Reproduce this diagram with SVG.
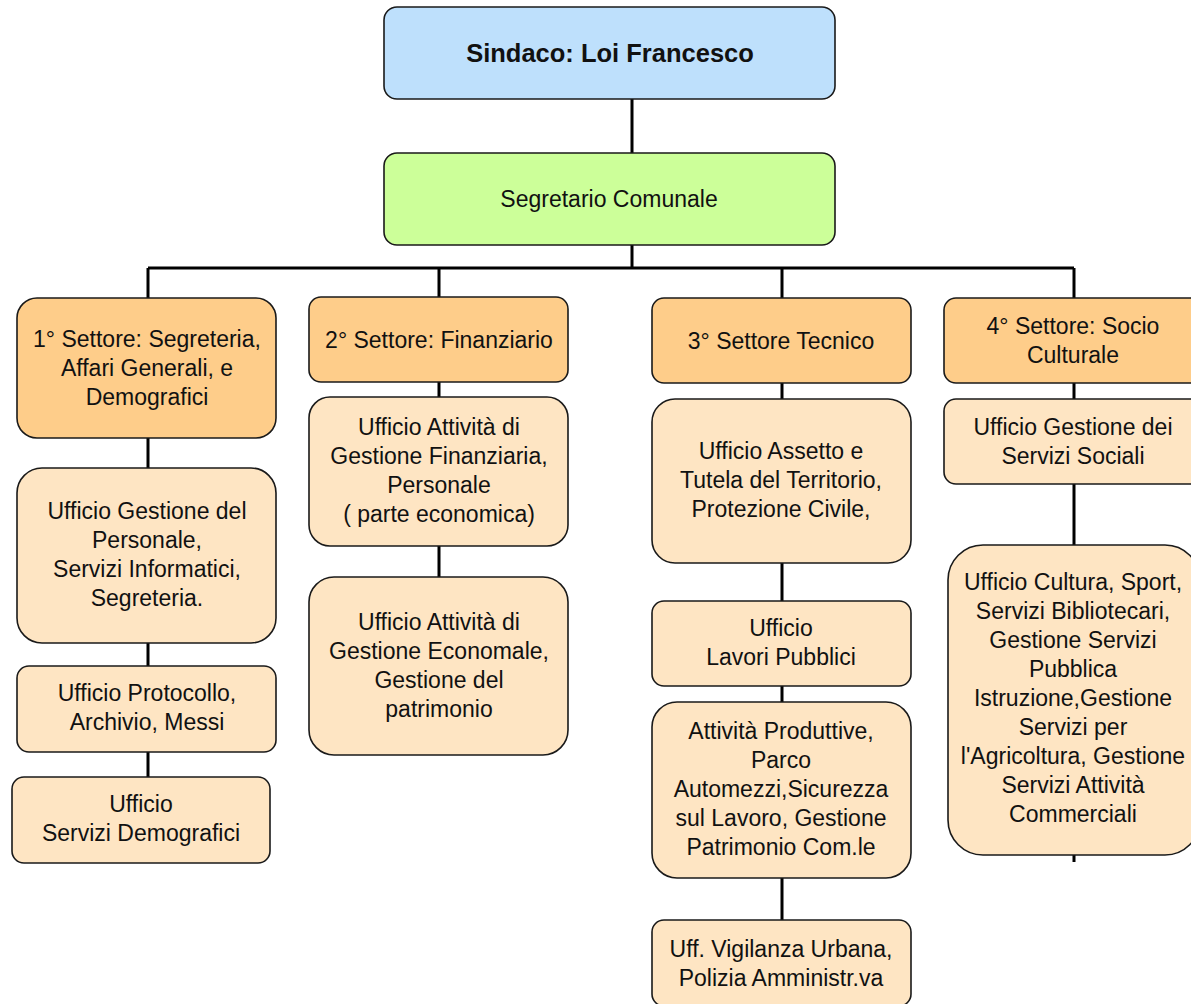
<svg xmlns="http://www.w3.org/2000/svg" width="1191" height="1004" viewBox="0 0 1191 1004">
<style>
.box{stroke:#1a1a1a;stroke-width:1.6}
.top{fill:#BEE0FC}
.sec{fill:#CCFF99}
.hdr{fill:#FECD8A}
.off{fill:#FEE5C3}
text{font-family:"Liberation Sans",Arial,sans-serif;font-size:23px;fill:#111;text-anchor:middle}
.b{font-weight:bold;font-size:25.5px}
.c{stroke:#000;stroke-width:3;fill:none}
</style>
<rect width="1191" height="1004" fill="#fff"/>
<g id="connectors">
<path class="c" d="M632 99V153M632 245V268M148 268H1074M148 268V298M439 268V297M782 268V298M1074 268V298"/>
<path class="c" d="M148 438V468M148 643V666M148 752V777"/>
<path class="c" d="M439 382V397M439 546V577"/>
<path class="c" d="M782 383V399M782 563V601M782 686V702M782 878V920"/>
<path class="c" d="M1074 383V399M1074 484V545M1074 855V862"/>
</g>
<g id="sindaco"><rect class="box top" x="384" y="7" width="451" height="92" rx="13"/><text class="b" x="610" y="62">Sindaco: Loi Francesco</text></g>
<g id="segretario"><rect class="box sec" x="384" y="153" width="451" height="92" rx="13"/><text x="609" y="207">Segretario Comunale</text></g>
<g id="settore1"><rect class="box hdr" x="17" y="298" width="259" height="140" rx="20"/><text x="147" y="347">1° Settore: Segreteria,</text><text x="147" y="376">Affari Generali, e</text><text x="147" y="405">Demografici</text></g>
<g id="uff-personale"><rect class="box off" x="17" y="468" width="259" height="175" rx="25"/><text x="147" y="519">Ufficio Gestione del</text><text x="147" y="548">Personale,</text><text x="147" y="577">Servizi Informatici,</text><text x="147" y="606">Segreteria.</text></g>
<g id="uff-protocollo"><rect class="box off" x="17" y="666" width="259" height="86" rx="12"/><text x="147" y="701">Ufficio Protocollo,</text><text x="147" y="730">Archivio, Messi</text></g>
<g id="uff-demografici"><rect class="box off" x="12" y="777" width="258" height="86" rx="12"/><text x="141" y="812">Ufficio</text><text x="141" y="841">Servizi Demografici</text></g>
<g id="settore2"><rect class="box hdr" x="309" y="297" width="259" height="85" rx="12"/><text x="439" y="348">2° Settore: Finanziario</text></g>
<g id="uff-finanziaria"><rect class="box off" x="309" y="397" width="259" height="149" rx="21"/><text x="439" y="435">Ufficio Attività di</text><text x="439" y="464">Gestione Finanziaria,</text><text x="439" y="493">Personale</text><text x="439" y="522">( parte economica)</text></g>
<g id="uff-economale"><rect class="box off" x="309" y="577" width="259" height="178" rx="25"/><text x="439" y="630">Ufficio Attività di</text><text x="439" y="659">Gestione Economale,</text><text x="439" y="688">Gestione del</text><text x="439" y="717">patrimonio</text></g>
<g id="settore3"><rect class="box hdr" x="652" y="298" width="259" height="85" rx="12"/><text x="781" y="349">3° Settore Tecnico</text></g>
<g id="uff-assetto"><rect class="box off" x="652" y="399" width="259" height="164" rx="23"/><text x="781" y="459">Ufficio Assetto e</text><text x="781" y="488">Tutela del Territorio,</text><text x="781" y="517">Protezione Civile,</text></g>
<g id="uff-lavori"><rect class="box off" x="652" y="601" width="259" height="85" rx="12"/><text x="781" y="636">Ufficio</text><text x="781" y="665">Lavori Pubblici</text></g>
<g id="uff-attivita"><rect class="box off" x="652" y="702" width="259" height="176" rx="25"/><text x="781" y="739">Attività Produttive,</text><text x="781" y="768">Parco</text><text x="781" y="797">Automezzi,Sicurezza</text><text x="781" y="826">sul Lavoro, Gestione</text><text x="781" y="855">Patrimonio Com.le</text></g>
<g id="uff-vigilanza"><rect class="box off" x="652" y="920" width="259" height="86" rx="12"/><text x="781" y="957">Uff. Vigilanza Urbana,</text><text x="781" y="986">Polizia Amministr.va</text></g>
<g id="settore4"><rect class="box hdr" x="944" y="298" width="260" height="85" rx="12"/><text x="1073" y="334">4° Settore: Socio</text><text x="1073" y="363">Culturale</text></g>
<g id="uff-sociali"><rect class="box off" x="944" y="399" width="260" height="85" rx="12"/><text x="1073" y="435">Ufficio Gestione dei</text><text x="1073" y="464">Servizi Sociali</text></g>
<g id="uff-cultura"><rect class="box off" x="948" y="545" width="252" height="310" rx="35"/><text x="1073" y="590">Ufficio Cultura, Sport,</text><text x="1073" y="619">Servizi Bibliotecari,</text><text x="1073" y="648">Gestione Servizi</text><text x="1073" y="677">Pubblica</text><text x="1073" y="706">Istruzione,Gestione</text><text x="1073" y="735">Servizi per</text><text x="1073" y="764">l'Agricoltura, Gestione</text><text x="1073" y="793">Servizi Attività</text><text x="1073" y="822">Commerciali</text></g>
</svg>
